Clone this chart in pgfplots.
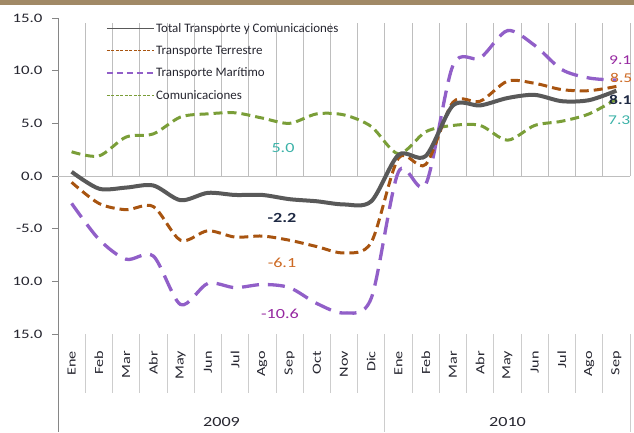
\documentclass[border=0pt]{standalone}
\usepackage{fontspec}
\setmainfont{Carlito}
\newfontfamily\wide[FakeStretch=1.3]{Carlito}
\usepackage{pgfplots}
\usepackage{pgfplotstable}
\pgfplotsset{compat=1.18}
\definecolor{cTot}{RGB}{89,89,89}
\definecolor{cTer}{RGB}{168,84,16}
\definecolor{cMar}{RGB}{145,95,200}
\definecolor{cCom}{RGB}{122,158,56}
\definecolor{cBar}{RGB}{161,137,102}
\definecolor{cAx}{RGB}{134,134,134}
\definecolor{cSep}{RGB}{205,205,205}
\definecolor{cZero}{RGB}{190,190,190}
\definecolor{cTxt}{RGB}{38,38,48}
\definecolor{lTeal}{RGB}{60,178,168}
\definecolor{lOrange}{RGB}{205,105,35}
\definecolor{lPurple}{RGB}{150,40,160}
\definecolor{lNavy}{RGB}{31,42,68}

\pgfplotstableread{
x    tot   ter   mar    com
0.5  0.4  -0.6  -2.6   2.3
1.5 -1.2  -2.6  -6.0   1.9
2.5 -1.1  -3.2  -7.9   3.7
3.5 -0.9  -2.9  -7.6   4.0
4.5 -2.3  -6.1 -12.2   5.6
5.5 -1.6  -5.2 -10.2   5.9
6.5 -1.8  -5.8 -10.6   6.0
7.5 -1.8  -5.7 -10.3   5.5
8.5 -2.2  -6.1 -10.6   5.0
9.5 -2.4  -6.7 -12.1   5.9
10.5 -2.7 -7.3 -13.0   5.8
11.5 -2.4 -6.3 -11.6   4.7
12.5  2.0  1.7   0.4   2.1
13.5  1.9  1.1  -0.8   4.2
14.5  6.7  7.0  10.5   4.8
15.5  6.7  7.1  11.2   4.8
16.5  7.4  9.0  13.8   3.4
17.5  7.7  8.8  12.4   4.8
18.5  7.1  8.2  10.1   5.2
19.5  7.2  8.1   9.3   5.9
20.5  8.1  8.5   9.1   7.3
}\data

\begin{document}
\begin{tikzpicture}[x=1bp,y=1bp]
\useasboundingbox (0,0) rectangle (634,432);
\fill[cBar] (0,427) rectangle (634,432);
% category separators
\foreach \k in {1,...,11,13,14,...,20}
  \draw[cSep, line width=0.8bp] ({58+\k*27.238},98) -- ({58+\k*27.238},39);
\draw[cSep, line width=0.8bp] ({58+12*27.238},98) -- ({58+12*27.238},0);
\draw[cSep, line width=0.8bp] ({58+21*27.238},98) -- ({58+21*27.238},0);
\draw[cAx, line width=0.8bp] (58,98) -- (58,0);
\begin{axis}[
  at={(58bp,98bp)}, anchor=south west,
  scale only axis, width=572bp, height=316bp,
  xmin=0, xmax=21, ymin=-15, ymax=15,
  axis x line=none, axis y line*=left,
  y axis line style={cAx, line width=0.8bp},
  ytick={-15,-10,-5,0,5,10,15},
  yticklabels={15.0,10.0,-5.0,0.0,5.0,10.0,15.0},
  tick align=outside, major tick length=6bp,
  ytick style={cAx, line width=0.8bp},
  yticklabel style={font=\wide\fontsize{13}{13}\selectfont, text=cTxt, xshift=-6bp},
  clip=false,
  legend style={at={(axis description cs:0.084,0.988)}, anchor=north west,
    draw=none, fill=none, font=\fontsize{13}{13}\selectfont,
    row sep=9bp, inner sep=0pt, nodes={inner sep=1.5bp}},
  legend cell align=left,
  legend image code/.code={\draw[#1] (0bp,0bp) -- (47bp,0bp);},
]
\draw[cZero, line width=1bp] (axis cs:0,0) -- (axis cs:21,0);
\pgfplotsinvokeforeach{1,...,21}{\draw[cZero, line width=0.8bp] (axis cs:#1,0) -- ++(0,-5bp);}
\addlegendimage{draw=cTot, line width=1.1bp}
\addlegendentry{\textcolor{cTxt}{Total Transporte y Comunicaciones}}
\addlegendimage{draw=cTer, line width=1.2bp, dash pattern=on 3bp off 1.5bp}
\addlegendentry{\textcolor{cTxt}{Transporte Terrestre}}
\addlegendimage{draw=cMar, line width=1.2bp, dash pattern=on 6bp off 4bp}
\addlegendentry{\textcolor{cTxt}{Transporte Mar\'itimo}}
\addlegendimage{draw=cCom, line width=1.3bp, dash pattern=on 3bp off 1.5bp}
\addlegendentry{\textcolor{cTxt}{Comunicaciones}}
\addplot[cCom, line width=3bp, smooth, dash pattern=on 9bp off 5bp, forget plot] table[x=x,y=com]{\data};
\addplot[cMar, line width=3.3bp, smooth, dash pattern=on 17bp off 9bp, forget plot] table[x=x,y=mar]{\data};
\addplot[cTer, line width=3bp, smooth, dash pattern=on 9bp off 5bp, forget plot] table[x=x,y=ter]{\data};
\addplot[cTot, line width=4bp, smooth, forget plot] table[x=x,y=tot]{\data};
\end{axis}
% month labels
\foreach \m [count=\i from 0] in {Ene,Feb,Mar,Abr,May,Jun,Jul,Ago,Sep,Oct,Nov,Dic,Ene,Feb,Mar,Abr,May,Jun,Jul,Ago,Sep}
  \node[rotate=90, anchor=east, inner sep=0pt, text=cTxt, font=\wide\fontsize{12.5}{12.5}\selectfont] at ({58+(\i+0.5)*27.238},81) {\m};
\node[text=cTxt, font=\wide\fontsize{14}{14}\selectfont] at (221.5,10) {2009};
\node[text=cTxt, font=\wide\fontsize{14}{14}\selectfont] at (507.5,10) {2010};
% data labels
\node[text=lNavy, font=\wide\bfseries\fontsize{14}{14}\selectfont] at (282,214) {-2.2};
\node[text=lOrange, font=\wide\fontsize{14}{14}\selectfont] at (282,169) {-6.1};
\node[text=lPurple, font=\wide\fontsize{14}{14}\selectfont] at (280,118) {-10.6};
\node[text=lTeal, font=\wide\fontsize{14}{14}\selectfont] at (283,284) {5.0};
\node[anchor=west, inner sep=0pt, text=lPurple, font=\wide\fontsize{13.5}{13.5}\selectfont] at (609,372) {9.1};
\node[anchor=west, inner sep=0pt, text=lOrange, font=\wide\fontsize{13.5}{13.5}\selectfont] at (610,354) {8.5};
\node[anchor=west, inner sep=0pt, text=lNavy, font=\wide\bfseries\fontsize{13.5}{13.5}\selectfont] at (609,332) {8.1};
\node[anchor=west, inner sep=0pt, text=lTeal, font=\wide\fontsize{13.5}{13.5}\selectfont] at (608,312) {7.3};
\end{tikzpicture}
\end{document}
